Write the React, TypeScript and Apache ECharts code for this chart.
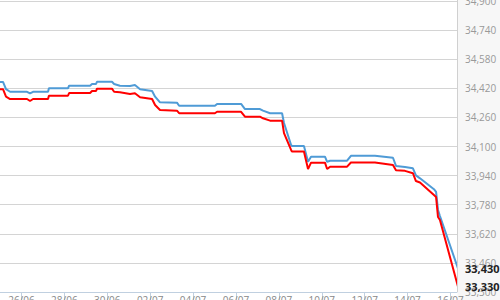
import React, { useEffect, useRef } from "react";
import * as echarts from "echarts";

// x positions in days after 26/06 (0 = 26/06)
const days = [
  -1, -0.86, -0.72, -0.53, 0.26, 0.4, 0.54, 1.24, 1.28, 2.17, 2.22, 3.2, 3.29, 3.48, 3.52, 4.22,
  4.32, 4.59, 5.06, 5.29, 5.53, 6.09, 6.23, 6.46, 7.25, 7.35, 9.02, 9.12, 10.24, 10.42, 11.12,
  11.26, 11.59, 12.15, 12.24, 12.57, 12.61, 13.17, 13.36, 13.5, 14.15, 14.25, 14.39, 15.18,
  15.36, 16.48, 17.32, 17.46, 17.88, 18.25, 18.39, 18.58, 19.23, 19.33, 19.42, 19.51, 20.35,
];

const blueValues = [
  34455, 34455, 34415, 34401, 34401, 34392, 34401, 34401, 34420, 34420, 34434, 34434, 34444,
  34444, 34456, 34456, 34444, 34434, 34433, 34438, 34415, 34405, 34374, 34343, 34341, 34324,
  34324, 34334, 34334, 34306, 34306, 34297, 34283, 34283, 34229, 34108, 34103, 34103, 34016,
  34044, 34044, 34016, 34022, 34022, 34049, 34049, 34038, 33993, 33987, 33980, 33941, 33925,
  33865, 33850, 33751, 33718, 33430,
];

const redValues = [
  34415, 34415, 34374, 34361, 34361, 34350, 34361, 34361, 34379, 34379, 34394, 34394, 34405,
  34405, 34418, 34418, 34401, 34398, 34389, 34393, 34371, 34361, 34328, 34301, 34297, 34283,
  34283, 34291, 34291, 34264, 34264, 34255, 34242, 34242, 34174, 34081, 34072, 34072, 33976,
  34011, 34011, 33976, 33989, 33989, 34012, 34012, 33998, 33969, 33966, 33953, 33910, 33902,
  33833, 33822, 33712, 33696, 33330,
];

const xTickDays = [0, 2, 4, 6, 8, 10, 12, 14, 16, 18, 20];
const xTickLabels = ["26/06", "28/06", "30/06", "02/07", "04/07", "06/07", "08/07", "10/07", "12/07", "14/07", "16/07"];

const yBase = 33300;
const yTop = 34900;
const yStep = 160;
const xMin = -1;
const xMax = 20.305;

const fmt = (v: number) => Math.round(v).toLocaleString("en-US");

export default function App() {
  const ref = useRef<HTMLDivElement>(null);
  useEffect(() => {
    if (!ref.current) return;
    const chart = echarts.init(ref.current, null, { renderer: "svg" });
    const mk = (vals: number[]) => days.map((d, i) => [d, vals[i] - yBase]);
    chart.setOption({
      animation: false,
      backgroundColor: "#ffffff",
      grid: { left: 0, right: 43, top: 1, bottom: 8, containLabel: false, outerBoundsMode: "none" },
      xAxis: {
        type: "value",
        min: xMin,
        max: xMax,
        axisLine: { show: true, onZero: false, lineStyle: { color: "#c0d0e0", width: 1 } },
        axisTick: { show: true, length: 10, lineStyle: { color: "#c0d0e0" }, customValues: xTickDays },
        axisLabel: {
          show: true,
          customValues: xTickDays,
          formatter: (v: number) => xTickLabels[xTickDays.indexOf(Math.round(v))] ?? "",
          color: "#888",
          fontSize: 10,
          fontFamily: "Open Sans",
          margin: 3,
        },
        splitLine: { show: false },
      },
      yAxis: {
        type: "value",
        position: "right",
        min: 0,
        max: yTop - yBase,
        interval: yStep,
        axisLine: { show: false },
        axisTick: { show: false },
        axisLabel: {
          color: "#999",
          fontSize: 10,
          fontFamily: "Open Sans",
          margin: 8,
          formatter: (v: number) => fmt(v + yBase),
        },
        splitLine: { show: true, lineStyle: { color: "#d4d4d4", width: 1 } },
      },
      series: [
        {
          type: "line",
          data: mk(blueValues),
          showSymbol: false,
          symbol: "none",
          lineStyle: { color: "#4f9bd6", width: 2 },
          itemStyle: { color: "#4f9bd6" },
          clip: true,
        },
        {
          type: "line",
          data: mk(redValues),
          showSymbol: false,
          symbol: "none",
          lineStyle: { color: "#ff0000", width: 2 },
          itemStyle: { color: "#ff0000" },
          clip: true,
        },
      ],
    });
    const rect = chart.getModel().getComponent("grid", 0).coordinateSystem.getRect();
    const edge = Math.round(rect.x + rect.width) + 0.5;
    const lastVals = [blueValues[blueValues.length - 1], redValues[redValues.length - 1]];
    const labels = lastVals.map((v) => {
      const p = chart.convertToPixel({ gridIndex: 0 }, [xMax, v - yBase]) as number[];
      return {
        type: "text",
        x: p[0] + 8,
        y: p[1],
        z: 100,
        silent: true,
        style: {
          text: fmt(v),
          fill: "#222",
          font: "bold 11px 'Open Sans'",
          verticalAlign: "middle",
          align: "left",
        },
      };
    });
    chart.setOption({
      graphic: [
        {
          type: "rect",
          x: edge,
          y: 0,
          z: -10,
          silent: true,
          shape: { width: 500 - edge, height: 300 },
          style: { fill: "#f7f7f7" },
        },
        {
          type: "line",
          z: 50,
          silent: true,
          shape: { x1: edge, y1: 0, x2: edge, y2: rect.y + rect.height },
          style: { stroke: "#d0d0d0", lineWidth: 1 },
        },
        ...labels,
      ],
    });
    return () => chart.dispose();
  }, []);
  return <div ref={ref} style={{ position: "fixed", left: 0, top: 0, width: 500, height: 300 }} />;
}
